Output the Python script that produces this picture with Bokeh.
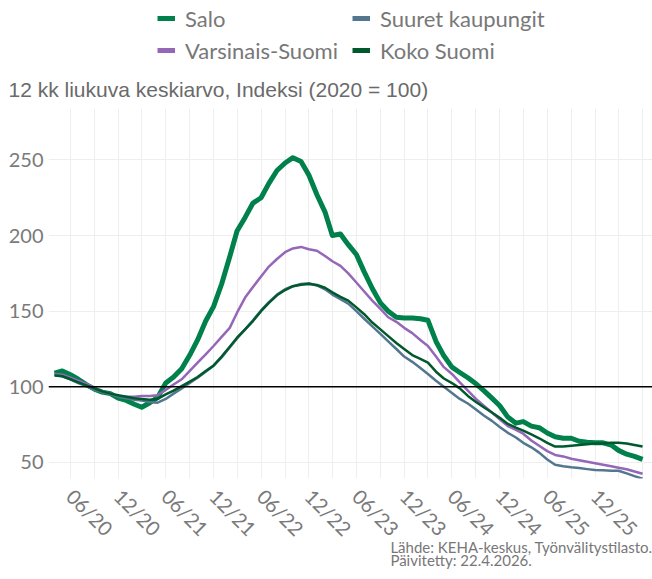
import math
import pandas as pd
from bokeh.plotting import figure
from bokeh.layouts import column
from bokeh.models import Range1d, FixedTicker, Span, Legend, LegendItem, Title
from bokeh.embed import file_html
from bokeh.resources import INLINE

# ---- data (monthly, 12-month moving average index, 2020 = 100) ----
months = pd.date_range("2020-04-01", periods=75, freq="MS")

salo = [109, 110.5, 108, 105, 101.5, 98.5, 96.5, 95.5, 92.5, 91,
        88.5, 86.5, 89.5, 93, 102.5, 106.5, 112, 121, 131, 143.5,
        153, 168, 186, 203, 212, 221.5, 225, 234.5, 243, 248,
        251.5, 249, 240, 227, 215.5, 200, 201, 194, 187.5, 176,
        165, 155.5, 150, 146, 145.5, 145.5, 145, 144, 130, 120.5,
        113, 109.5, 106, 102, 97.5, 92.5, 87.5, 80, 76, 77,
        74, 73, 69.5, 67, 66, 66, 64, 63.3, 63, 63,
        61.5, 58, 55.5, 54, 52]

varsinais = [108.5, 108, 106, 104, 102, 99.5, 97, 95.5, 94, 93.5,
             93.5, 94, 94, 94.5, 98, 101.5, 105, 110.5, 116, 121.5,
             127, 133, 139, 149, 159, 166, 173, 179.5, 184.5, 189,
             191.5, 192.5, 191, 190, 186.5, 183, 180, 175, 169, 163,
             157, 151.5, 146, 143, 139, 135.5, 131, 127, 120, 113,
             108.5, 103, 97.5, 92, 87.5, 83, 78.5, 74, 71.5, 69,
             64.5, 61, 57.5, 55, 54, 52.5, 51.5, 50.5, 49.5, 48.5,
             47.5, 46.5, 45.5, 44, 42.5]

suuret = [108, 107, 105, 102.5, 100.5, 98, 96.5, 95, 93.5, 92.5,
          91.5, 91, 90, 89.5, 92, 95.5, 99, 102.5, 106, 110,
          114, 119.5, 126, 132, 138, 144, 150.5, 156, 161, 164.5,
          166.5, 168, 168.5, 167, 164.5, 161, 158, 155, 150, 145,
          140, 135, 130, 125, 120, 116.5, 112.5, 108.5, 104, 100,
          96, 92, 89, 85, 81, 77.5, 73.5, 69.6, 66.5, 63,
          60, 56.5, 52, 48.5, 47.5, 46.8, 46.3, 45.6, 45, 44.8,
          44.6, 44.5, 42.8, 41, 39.3]

koko = [107.5, 107, 105, 103, 101, 99, 97, 95.5, 94.5, 93.5,
        92.5, 92, 91.5, 92, 95, 97.5, 100.5, 103.5, 106.5, 110.5,
        114, 120, 126.5, 132.5, 138, 143.5, 150, 155.5, 160.5, 164,
        166.5, 167.5, 168, 167.3, 165.5, 162.5, 159.5, 157, 152.5, 148,
        142.5, 138, 133.5, 129, 125, 121, 118.5, 116, 110, 105.5,
        102.5, 99, 94, 90, 86.5, 83, 79.5, 75.5, 73, 71,
        68.5, 66, 63, 60.5, 60.5, 61, 61.5, 62, 62.5, 62.5,
        63, 63, 62.5, 61.5, 60.5]

series_names = ["Salo", "Varsinais-Suomi", "Suuret kaupungit", "Koko Suomi"]
series_values = [salo, varsinais, suuret, koko]
series_colors = ["#00814C", "#9467B8", "#52778F", "#00592D"]
series_widths = [5, 2.5, 2.5, 2.5]
legend_order = ["Salo", "Suuret kaupungit", "Varsinais-Suomi", "Koko Suomi"]

tick_dates = ["2020-06-01", "2020-12-01", "2021-06-01", "2021-12-01", "2022-06-01",
              "2022-12-01", "2023-06-01", "2023-12-01", "2024-06-01", "2024-12-01",
              "2025-06-01", "2025-12-01"]
tick_labels = ["06/20", "12/20", "06/21", "12/21", "06/22", "12/22",
               "06/23", "12/23", "06/24", "12/24", "06/25", "12/25"]
minor_dates = ["2020-09-01", "2021-03-01", "2021-09-01", "2022-03-01", "2022-09-01",
               "2023-03-01", "2023-09-01", "2024-03-01", "2024-09-01", "2025-03-01",
               "2025-09-01", "2026-03-01", "2026-06-01"]
y_ticks = [50, 100, 150, 200, 250]

title_text = "12 kk liukuva keskiarvo, Indeksi (2020 = 100)"
source_lines = ["Lähde: KEHA-keskus, Työnvälitystilasto.", "Päivitetty: 22.4.2026."]


def ms(d):
    return pd.Timestamp(d).value / 1e6


W = 652
TOP_H = 66             # header figure (legend only)
MAIN_H = 579 - TOP_H   # main chart figure (subtitle above the frame)
FL, FT, FB = 48, 42, 370   # frame left, border above frame, frame height

# ---------------- header figure: legend ----------------
head = figure(width=W, height=TOP_H, output_backend="svg", toolbar_location=None,
              x_range=Range1d(0, W), y_range=Range1d(0, TOP_H),
              x_axis_location=None, y_axis_location=None,
              min_border=0, min_border_left=0, min_border_right=0,
              min_border_top=0, min_border_bottom=0)
head.grid.visible = False
head.outline_line_color = None

legend_renderers = {}
for name, col in zip(series_names, series_colors):
    # key-only renderers, their points lie outside the visible range
    legend_renderers[name] = head.line([-50, -40], [-50, -40], line_color=col, line_width=5)

legend = Legend(items=[LegendItem(label=n, renderers=[legend_renderers[n]]) for n in legend_order],
                location=(109, 0), orientation="horizontal", ncols=2,
                label_text_font="Lato", label_text_font_size="22px", label_text_color="#787878",
                glyph_width=18, glyph_height=32, label_height=32, label_width=167,
                label_standoff=10, spacing=0, padding=0, margin=0,
                border_line_color=None, background_fill_alpha=0)
head.add_layout(legend, "center")

# ---------------- main chart ----------------
p = figure(width=W, height=MAIN_H, x_axis_type="datetime", output_backend="svg",
           toolbar_location=None,
           x_range=Range1d(ms("2020-03-09"), ms("2026-07-09")),
           y_range=Range1d(39.4, 284),
           min_border_left=FL, min_border_right=0, min_border_top=FT,
           min_border_bottom=MAIN_H - FT - FB)
p.outline_line_color = None
p.background_fill_color = "white"
p.border_fill_color = "white"

p.title.text = title_text
p.title.align = "left"
p.title.offset = -40
p.title.standoff = 16
p.title.text_font = "Liberation Sans"
p.title.text_font_size = "21px"
p.title.text_font_style = "normal"
p.title.text_color = "#6a6a6a"

tick_ms = [ms(d) for d in tick_dates]
p.xaxis.ticker = FixedTicker(ticks=tick_ms, minor_ticks=[ms(d) for d in minor_dates])
p.xaxis.major_label_overrides = {t: lab for t, lab in zip(tick_ms, tick_labels)}
p.yaxis.ticker = FixedTicker(ticks=y_ticks)

for ax in (p.xaxis[0], p.yaxis[0]):
    ax.axis_line_color = None
    ax.major_tick_line_color = None
    ax.minor_tick_line_color = None
    ax.major_tick_out = 0
    ax.major_tick_in = 0
    ax.minor_tick_out = 0
    ax.minor_tick_in = 0
    ax.major_label_text_font = "Lato"
    ax.major_label_text_font_size = "20px"
    ax.major_label_text_color = "#7a7a7a"
p.yaxis.major_label_standoff = 5
p.xaxis.major_label_standoff = 14
p.xaxis.major_label_orientation = -math.pi / 4

p.xgrid.grid_line_color = "#EEEEEE"
p.xgrid.minor_grid_line_color = "#EEEEEE"
p.ygrid.grid_line_color = "#EEEEEE"

for name, vals, col, lw in zip(series_names, series_values, series_colors, series_widths):
    p.line(months, vals, line_color=col, line_width=lw, line_join="round")

p.add_layout(Span(location=100, dimension="width", line_color="black", line_width=1.5))

p.add_layout(Title(text="\n".join(source_lines), align="right", vertical_align="top",
                   standoff=-28, text_line_height=0.74, text_font="Lato",
                   text_font_size="15px", text_font_style="normal",
                   text_color="#777777"), "below")

layout = column(head, p, spacing=0)
open("out.html", "w").write(file_html(layout, INLINE))
